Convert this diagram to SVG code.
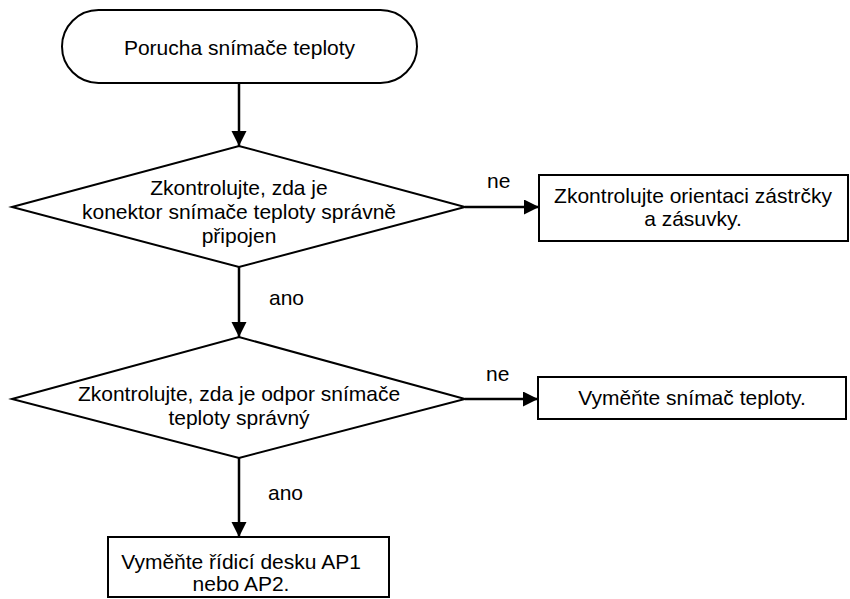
<svg xmlns="http://www.w3.org/2000/svg" width="850" height="599" viewBox="0 0 850 599">
<defs>
<marker id="ah" markerWidth="16" markerHeight="16" refX="15" refY="7.5" orient="auto" markerUnits="userSpaceOnUse">
<path d="M0,0 L15,7.5 L0,15 Z" fill="#000"/>
</marker>
<style>
.s{fill:#fff;stroke:#000;stroke-width:2}
.t{font-family:"Liberation Sans",Arial,sans-serif;font-size:21px;fill:#000}
.c{text-anchor:middle}
.l{stroke:#000;stroke-width:2.5;fill:none}
</style>
</defs>
<rect width="850" height="599" fill="#fff"/>
<g id="start">
<rect class="s" x="62" y="10" width="355" height="73" rx="36.5"/>
<text class="t c" x="239.5" y="55">Porucha snímače teploty</text>
</g>
<g id="d1">
<polygon class="s" points="12,207 239,146 465,207 239,267"/>
<text class="t c" x="239" y="195">Zkontrolujte, zda je</text>
<text class="t c" x="239" y="219">konektor snímače teploty správně</text>
<text class="t c" x="239" y="243">připojen</text>
</g>
<g id="b1">
<rect class="s" x="539" y="175" width="309" height="66"/>
<text class="t c" x="693" y="203">Zkontrolujte orientaci zástrčky</text>
<text class="t c" x="693" y="226">a zásuvky.</text>
</g>
<g id="d2">
<polygon class="s" points="12,399 239,337 465,399 239,458"/>
<text class="t c" x="239" y="401">Zkontrolujte, zda je odpor snímače</text>
<text class="t c" x="239" y="425">teploty správný</text>
</g>
<g id="b2">
<rect class="s" x="538" y="377" width="308" height="42"/>
<text class="t c" x="692" y="405">Vyměňte snímač teploty.</text>
</g>
<g id="b3">
<rect class="s" x="108" y="537" width="281" height="60"/>
<text class="t c" x="241" y="569">Vyměňte řídicí desku AP1</text>
<text class="t c" x="241" y="591">nebo AP2.</text>
</g>
<g id="connectors">
<line class="l" x1="239" y1="83" x2="239" y2="146" marker-end="url(#ah)"/>
<line class="l" x1="239" y1="267" x2="239" y2="337" marker-end="url(#ah)"/>
<line class="l" x1="239" y1="458" x2="239" y2="537" marker-end="url(#ah)"/>
<line class="l" x1="465" y1="207" x2="539" y2="207" marker-end="url(#ah)"/>
<line class="l" x1="465" y1="399" x2="538" y2="399" marker-end="url(#ah)"/>
<text class="t" x="269" y="305">ano</text>
<text class="t" x="268" y="500">ano</text>
<text class="t" x="487" y="188">ne</text>
<text class="t" x="486" y="381">ne</text>
</g>
</svg>
